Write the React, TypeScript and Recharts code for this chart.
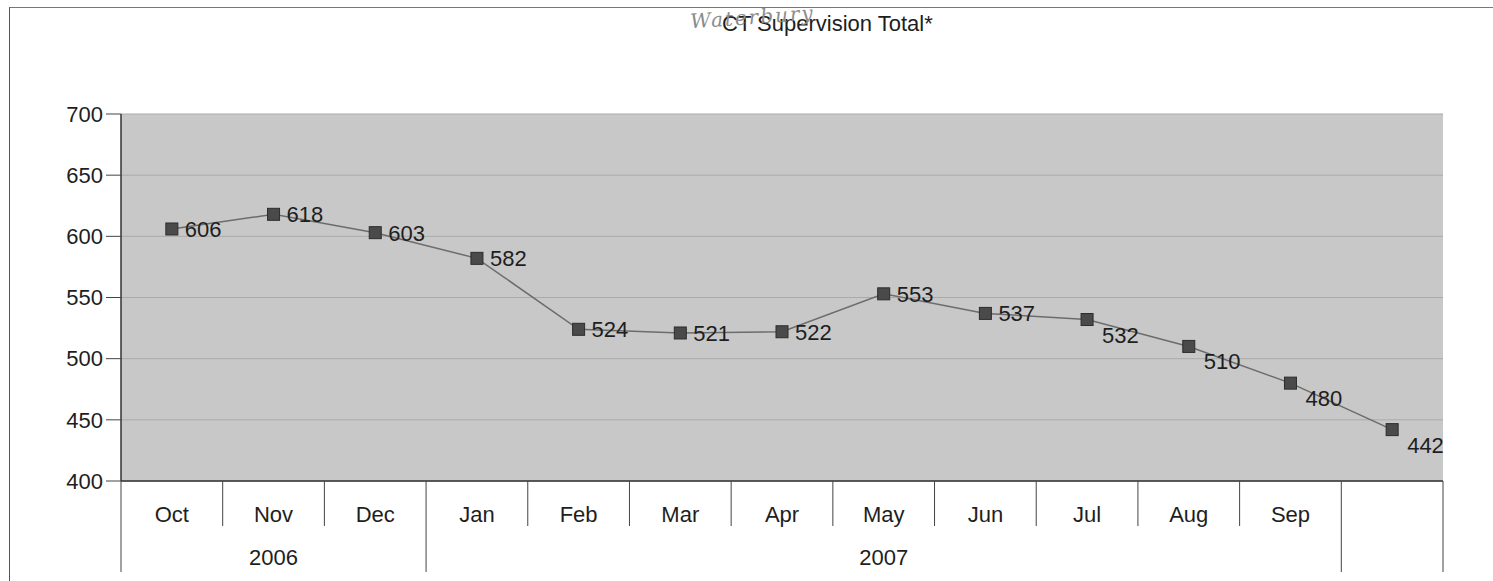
import {
  LineChart,
  Line,
  XAxis,
  YAxis,
  CartesianGrid,
  LabelList,
} from "recharts";

const MONTHS = ["Oct", "Nov", "Dec", "Jan", "Feb", "Mar", "Apr", "May", "Jun", "Jul", "Aug", "Sep", ""];
const TOTALS = [606, 618, 603, 582, 524, 521, 522, 553, 537, 532, 510, 480, 442];
const YEARS = [
  { label: "2006", from: 0, to: 2 },
  { label: "2007", from: 3, to: 11 },
  { label: "", from: 12, to: 12 },
];
const Y_TICKS = [400, 450, 500, 550, 600, 650, 700];

const W = 1493;
const H = 581;
const LEFT = 121;
const RIGHT = 50;
const BAND = (W - LEFT - RIGHT) / MONTHS.length;
const FONT = "'Liberation Sans', Arial, sans-serif";
const INK = "#1e1e1e";

const data = MONTHS.map((m, i) => ({ month: m || " ", total: TOTALS[i] }));

// labels from Jul on sit below-right of the marker, like in the print
const dropLabel = (i: number) => i >= 9;

function MonthTick(props: any) {
  const { x, y, payload } = props;
  const i = payload.index;
  const half = BAND / 2;
  const group = YEARS.find((g) => g.from === i);
  const last = i === MONTHS.length - 1;
  return (
    <g>
      <line x1={x - half} x2={x - half} y1={y} y2={y + (group ? 91 : 45)} stroke="#444" strokeWidth={1} />
      {last && <line x1={x + half} x2={x + half} y1={y} y2={y + 91} stroke="#444" strokeWidth={1} />}
      <text x={x} y={y + 41} textAnchor="middle" fontSize={22} fontFamily={FONT} fill={INK}>
        {MONTHS[i]}
      </text>
      {group && group.label && (
        <text
          x={x - half + ((group.to - group.from + 1) * BAND) / 2}
          y={y + 84}
          textAnchor="middle"
          fontSize={22}
          fontFamily={FONT}
          fill={INK}
        >
          {group.label}
        </text>
      )}
    </g>
  );
}

function SquareDot(props: any) {
  const { cx, cy } = props;
  if (cx == null || cy == null) return null;
  return <rect x={cx - 6} y={cy - 6} width={12} height={12} fill="#4a4a4a" stroke="#2c2c2c" strokeWidth={1} />;
}

function ValueLabel(props: any) {
  const { x, y, value, index } = props;
  const down = dropLabel(index);
  return (
    <text
      x={x + (down ? 15 : 13)}
      y={y + (down ? 23 : 8)}
      fontSize={22}
      fontFamily={FONT}
      fill={INK}
      textAnchor="start"
    >
      {value}
    </text>
  );
}

export default function App() {
  const pad = { left: BAND / 2, right: BAND / 2 };
  return (
    <div style={{ position: "absolute", left: 0, top: 0, width: W, height: H, background: "#fff", overflow: "hidden" }}>
      <div
        style={{
          position: "absolute",
          left: 9,
          top: 7,
          width: W + 20,
          height: H + 20,
          borderLeft: "1px solid #555",
          borderTop: "1px solid #777",
        }}
      />
      <div
        style={{
          position: "absolute",
          left: 722,
          top: 12,
          fontFamily: FONT,
          fontSize: 22,
          lineHeight: "24px",
          color: INK,
          whiteSpace: "nowrap",
        }}
      >
        CT Supervision Total*
      </div>
      {/* handwritten note on the print */}
      <div
        style={{
          position: "absolute",
          left: 690,
          top: 6,
          fontFamily: "'DejaVu Serif', serif",
          fontStyle: "italic",
          fontSize: 20,
          lineHeight: "22px",
          color: "#8c8c8c",
          transform: "rotate(-4deg)",
          letterSpacing: 2,
        }}
      >
        Waterbury
      </div>
      <div style={{ position: "absolute", left: 0, top: 0 }}>
        <LineChart width={W} height={H} data={data} margin={{ top: 114, right: RIGHT, bottom: 0, left: 0 }}>
          <CartesianGrid vertical={false} fill="#c8c8c8" stroke="#aaaaaa" strokeWidth={1} />
          <XAxis
            dataKey="month"
            type="category"
            interval={0}
            height={100}
            padding={pad}
            tickLine={false}
            tickSize={0}
            tickMargin={0}
            axisLine={{ stroke: "#333", strokeWidth: 1.5 }}
            tick={<MonthTick />}
          />
          <XAxis
            xAxisId="top"
            orientation="top"
            dataKey="month"
            height={0}
            padding={pad}
            tick={false}
            tickLine={false}
            axisLine={{ stroke: "#333", strokeWidth: 1.5 }}
          />
          <YAxis
            domain={[400, 700]}
            ticks={Y_TICKS}
            width={LEFT}
            tickSize={15}
            tickMargin={3}
            tickLine={{ stroke: "#444" }}
            axisLine={{ stroke: "#333", strokeWidth: 1.5 }}
            tick={{ fontSize: 22, fontFamily: FONT, fill: INK }}
            interval={0}
          />
          <YAxis
            yAxisId="right"
            orientation="right"
            domain={[400, 700]}
            width={0}
            tick={false}
            tickLine={false}
            axisLine={{ stroke: "#333", strokeWidth: 1.5 }}
          />
          <Line
            dataKey="total"
            stroke="#6c6c6c"
            strokeWidth={1.5}
            dot={<SquareDot />}
            activeDot={false}
            isAnimationActive={false}
          >
            <LabelList dataKey="total" content={<ValueLabel />} />
          </Line>
        </LineChart>
      </div>
    </div>
  );
}
